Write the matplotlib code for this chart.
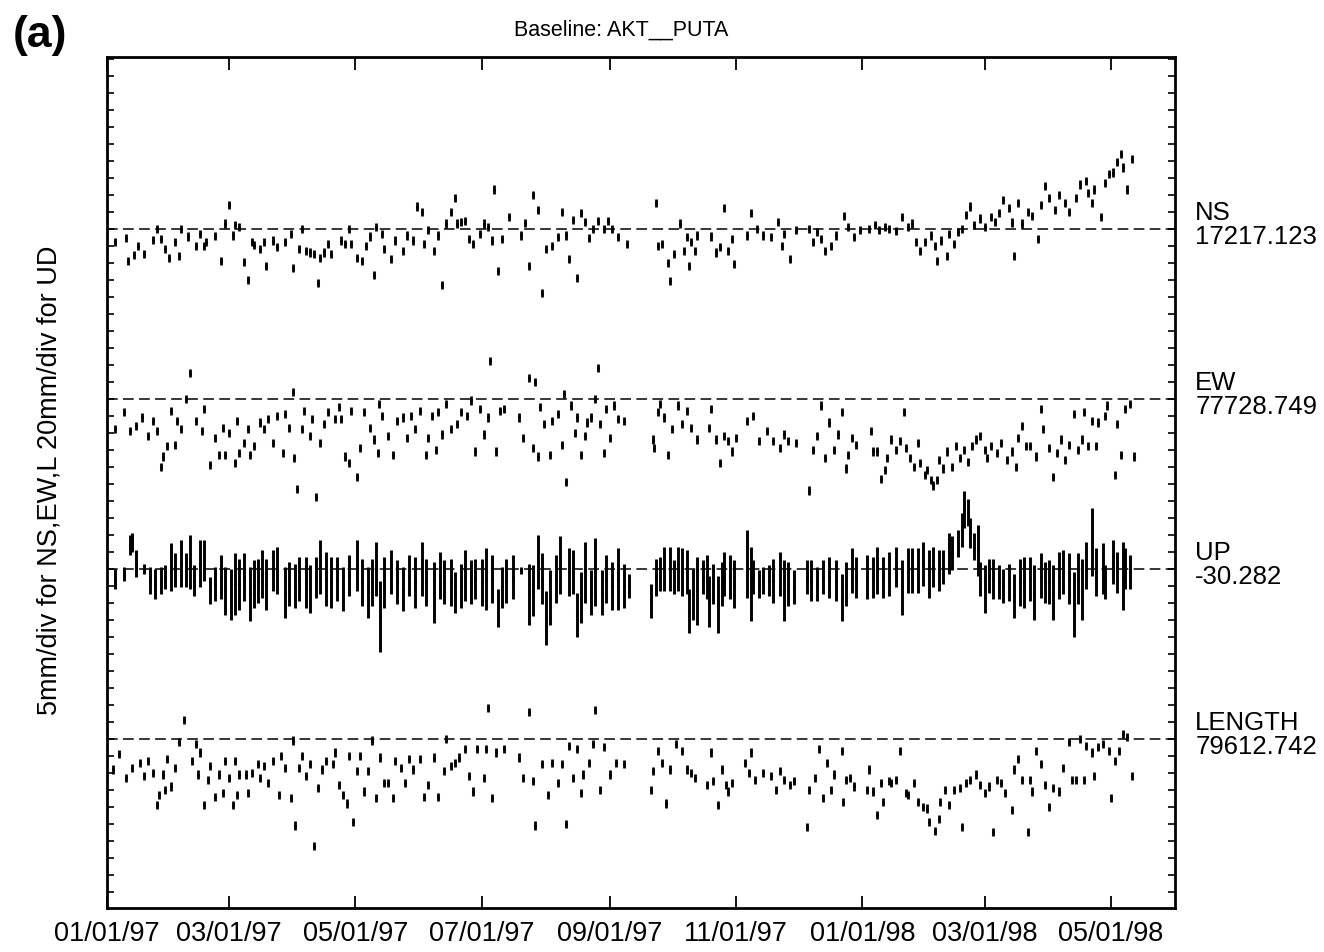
import numpy as np
import matplotlib
matplotlib.use("Agg")
import matplotlib.pyplot as plt
import matplotlib.dates as mdates
import matplotlib.transforms as mtrans

plt.rcParams['font.family'] = ['Liberation Sans', 'DejaVu Sans']

# (day after 01/01/97, offset from reference value in mm)
ns = [(4, -3.8), (9, -2.8), (10, -9.5), (13, -7.7), (15, -5), (18, -7.4), (22, -3.3), (24, 0), (26, -3), (28, -6),
      (30, -8.7), (33, -4), (35, -8), (36, 0), (39, -2.3), (43, -5), (45, -1.5), (47, -5), (48, -4), (52, -2.2),
      (55, -9.5), (57, 1.5), (59, 7), (61, -2), (62, 1), (64, 0.5), (66, -9.7), (68, -15), (70, -4), (71, -4.8),
      (74, -6), (76, -4), (77, -11), (80, -3.5), (82, -5.5), (86, -4), (89, -1.5), (90, -11.5), (93, -6), (94, 0),
      (96, -6.5), (98, -7), (100, -7.5), (102, -16), (103, -8.5), (105, -7), (107, -4.5), (108, -7.5), (113, -3.5),
      (115, -4.5), (117, 0), (118, -4.5), (121, -8.5), (123, -9.5), (125, -5), (127, -2.3), (129, -13.5), (130, 0.5),
      (133, -1.5), (134, -6), (137, -9), (139, -3.5), (143, -6.5), (145, -2), (148, -3.5), (150, 6.5), (152, 5),
      (153, -4.5), (155, -0.5), (158, -6.5), (160, -2), (162, -16.5), (164, 1.5), (166, 5), (168, 9), (169, 1.5),
      (171, 2), (173, 2.2), (175, -3), (177, -4.5), (180, -1.5), (182, 1.5), (184, 0.5), (186, -3.5), (187, 11.5),
      (189, -12.5), (191, -3), (194, 3.5), (200, -2), (202, 1.7), (204, -11), (206, 10), (208, 5.5), (210, -19),
      (212, -6), (215, -5), (218, -2.5), (220, 5), (222, -2), (223, -9), (225, 2.5), (227, -14.5), (229, 4.5),
      (231, 2), (233, -2.8), (235, 0), (237, 2.2), (240, 0), (242, 2.2), (244, 0), (247, -2.5), (251, -4.5),
      (265, 7.5), (266, -5), (268, -4.5), (271, -10), (272, -15.5), (274, -7.5), (277, 1.5), (279, -6.5), (280, -2.5),
      (281, -11), (282, -3.8), (284, -6.5), (285, -2), (292, -2.3), (294, -7), (296, -5.5), (298, 6), (300, -6.5),
      (302, -3), (303, -10.5), (309, -2), (311, 4.5), (314, 0), (317, -2), (321, -2.5), (324, 2), (326, -5),
      (327, -1.5), (330, -9), (333, -0.5), (339, 0), (341, -3.8), (343, -1), (345, -3), (347, -6.5), (350, -5),
      (352, -2), (356, 3.8), (358, 0.5), (361, -2.5), (364, -0.5), (368, 0), (371, 1), (373, -0.5), (376, 0.5),
      (378, 0), (381, -0.8), (384, 3.5), (387, 0.5), (389, 1.5), (391, -4), (393, -6.5), (395, -4), (398, -2),
      (400, -5), (401, -9.5), (403, -3.5), (406, -8), (407, -1.5), (409, -4.5), (411, -1), (413, 0), (415, 4),
      (417, 6.5), (419, 1), (422, 3), (424, 0.5), (427, 3.5), (429, 2), (431, 4.5), (433, 8.5), (436, 6), (437, 1.8),
      (438, -8), (440, 7.5), (442, 1.5), (445, 5), (447, 3.8), (450, -3), (451, 7), (453, 12.5), (455, 9), (458, 5.5),
      (460, 10), (463, 7.5), (465, 5), (468, 9), (470, 13), (473, 14), (474, 10.5), (476, 7.5), (477, 11.5),
      (480, 3.5), (482, 13.5), (484, 16), (486, 16.5), (488, 19.5), (490, 22), (491, 18), (493, 11.5), (495, 20.5)]

ew = [(4, -9), (8, -4), (11, -9.5), (14, -8), (17, -5.5), (20, -11), (22, -6.5), (24, -9.5), (26, -20), (27, -17),
      (29, -14), (31, -3.5), (33, -13.5), (34, -6.5), (36, -9), (38, 0), (40, 7.5), (43, -6.5), (46, -9.5), (47, -3),
      (50, -19.5), (52, -11.5), (54, -16.5), (56, -8.5), (57, -16.5), (59, -10), (62, -19), (63, -6.5), (64, -16),
      (66, -13), (68, -9), (69, -16.5), (71, -14), (74, -7), (76, -9), (78, -6), (80, -13), (82, -5), (85, -16),
      (86, -4.5), (88, -8.5), (90, 2), (90.5, -17.5), (92, -26.5), (94, -9), (95, -3.5), (98, -11), (99, -6),
      (101, -29), (103, -13), (105, -7.5), (107, -4), (110, -6), (112, -2.5), (113, -6), (115, -17), (117, -19),
      (118, -3.5), (121, -23), (122, -14.5), (124, -4), (127, -8.5), (129, -12), (131, -16), (131.5, -1.5), (133, -5),
      (136, -11), (138, -16.5), (140, -6.5), (143, -5.5), (145, -11.5), (147, -5), (149, -9), (151, -3.5),
      (154, -16.5), (155, -11.5), (157, -5), (159, -15), (160, -4), (162, -10.5), (164, -1.5), (166, -9), (169, -7.5),
      (171, -4), (174, -5), (176, -0.5), (178, -15.5), (180, -3), (182, -10.5), (184, -5.5), (185, 11), (188, -15.5),
      (190, -3.5), (192, -3), (199, -5.5), (201, -11.5), (204, 6), (206, -14.5), (207, 5), (208, -17), (209, -2.5),
      (211, -7.5), (214, -16.5), (215, -6.5), (218, -4.5), (220, -13.5), (221, 1.5), (222, -24.5), (224, -2),
      (226, -10), (227, -5.5), (229, -16.5), (231, -11), (232, -7), (234, -5.5), (236, 0), (237, 9), (238, -7.5),
      (240, -16), (241, -3), (243, -11.5), (245, -2), (247, -6), (250, -6.5),
      (264, -12), (264.5, -14.5), (266, -4), (267, -1.5), (269, -5.5), (271, -16.5), (273, -9), (276, -2),
      (278, -7.5), (280, -3.5), (282, -8.5), (285, -12), (291, -8.5), (292, -3), (294, -12), (296, -19), (298, -11),
      (300, -12.5), (302, -15.5), (304, -11.5), (309, -6.5), (312, -5), (315, -12.5), (319, -9.5), (322, -12.5),
      (325, -14.5), (327, -10.5), (329, -12.5), (333, -13), (339, -27), (341, -15), (343, -11), (345, -2),
      (347, -17.5), (349, -7), (351, -15), (353, -10.5), (355, -4), (357, -20.5), (358, -16.5), (360, -11.5),
      (362, -13.5), (369, -9.5), (370, -15.5), (372, -15.5), (374, -23.5), (376, -21), (377, -17.5), (379, -12),
      (381, -15), (383, -12.5), (385, -4), (386, -14.5), (388, -17.5), (390, -20), (392, -13), (393, -19),
      (395, -22.5), (396, -21), (398, -24), (399, -25.5), (401, -24), (402, -18), (404, -20.5), (406, -15.5),
      (408, -20), (410, -14), (412, -17.5), (414, -15), (416, -18.5), (418, -14), (420, -12), (422, -11), (424, -15),
      (425, -17.5), (427, -14), (430, -16), (432, -13), (435, -18), (437, -15.5), (439, -20), (440, -11.5), (442, -8),
      (444, -14), (446, -14), (449, -17), (451, -3), (452, -9), (455, -14.5), (457, -23), (459, -16), (461, -12),
      (463, -18), (465, -13.5), (467, -4.5), (469, -15), (471, -12), (472, -4), (474, -14), (476, -6.5), (478, -14),
      (479, -7), (482, -5), (483, -2), (487, -22.5), (488, -7.5), (490, -16.5), (492, -3), (494, -1.5), (496, -17)]

# (day, offset mm, sigma mm)
up = [(4, -12, 12), (8, -6, 8), (11, 28, 12), (12, 31, 11), (14, 6, 16), (18, 0, 6), (21, -14, 16), (23, -18, 18),
      (26, -14, 16), (28, -10, 14), (31, 2, 28), (33, -2, 20), (36, 6, 28), (38, -2, 20), (40, 8, 32), (42, -14, 18),
      (45, 6, 28), (47, 10, 24), (50, -26, 16), (52, -18, 20), (55, -10, 26), (57, -26, 28), (60, -30, 30),
      (62, -18, 36), (64, -18, 30), (66, -10, 28), (69, -30, 32), (71, -18, 28), (73, -14, 26), (75, -6, 28),
      (77, -18, 30), (80, -2, 24), (82, -2, 28), (86, -28, 30), (88, -18, 26), (91, -20, 26), (93, -12, 26),
      (96, -16, 30), (98, -24, 28), (101, -10, 24), (103, 2, 32), (106, -12, 32), (108, -16, 30), (111, -12, 26),
      (114, -24, 26), (117, -8, 24), (121, 4, 30), (123, -16, 28), (126, -28, 30), (128, -16, 28), (130, 0, 32),
      (132, -56, 42), (134, -16, 30), (137, -4, 26), (140, -16, 26), (143, -24, 26), (146, -8, 24), (149, -16, 30),
      (152, 0, 32), (154, -16, 28), (158, -28, 36), (161, -8, 28), (163, -16, 26), (166, -16, 28), (168, -28, 24),
      (171, -20, 26), (173, -8, 30), (176, -16, 26), (178, -12, 24), (181, -16, 28), (183, -12, 36), (186, -12, 28),
      (189, -46, 22), (191, -22, 24), (193, -14, 26), (196, -10, 26), (200, -2, 4), (204, -30, 36), (206, -26, 30),
      (208, 8, 32), (210, -12, 30), (212, -58, 32), (214, -34, 32), (217, -12, 28), (219, 4, 34), (223, -4, 28),
      (225, -4, 26), (227, -54, 26), (229, -34, 30), (231, -4, 36), (234, -28, 26), (236, -4, 40), (239, -28, 26),
      (241, -12, 28), (244, -20, 28), (247, -12, 36), (250, -20, 26), (252, -20, 14),
      (263, -38, 20), (265, -10, 22), (267, -6, 20), (269, 0, 26), (272, 0, 26), (274, -10, 20), (276, 0, 26),
      (278, -4, 28), (280, -4, 26), (281, -50, 26), (283, -30, 30), (285, -26, 40), (288, -10, 20), (290, -10, 26),
      (291, -38, 30), (293, -18, 24), (295, -42, 34), (297, -18, 26), (298, -6, 26), (301, -10, 26), (303, -18, 28),
      (309, 6, 40), (311, -18, 44), (312, -10, 20), (315, -18, 16), (317, -14, 16), (320, -14, 18), (322, -14, 26),
      (325, -6, 26), (327, -26, 36), (329, -18, 26), (332, -22, 20), (338, -10, 20), (340, -14, 24), (343, -18, 20),
      (346, -10, 20), (349, -10, 24), (352, -14, 24), (355, -34, 28), (357, -18, 26), (360, -2, 26), (362, -10, 24),
      (367, -10, 26), (370, -10, 24), (372, -2, 28), (375, -10, 24), (378, -6, 26), (381, 2, 24), (384, -22, 32),
      (387, -2, 26), (389, -2, 26), (392, -2, 26), (394, 6, 26), (397, -6, 28), (399, 2, 24), (402, -2, 24),
      (404, 2, 20), (407, 18, 24), (408, 18, 20), (411, 30, 16), (413, 46, 20), (414, 70, 22), (416, 66, 16),
      (417, 42, 18), (419, 26, 16), (421, 22, 30), (422, -12, 20), (424, -24, 28), (426, -8, 20), (428, -12, 24),
      (431, -16, 20), (433, -20, 20), (436, -16, 22), (438, -32, 26), (441, -16, 28), (443, -16, 30), (446, -12, 26),
      (448, -28, 32), (451, -8, 26), (453, -16, 24), (455, -16, 26), (457, -28, 32), (460, -8, 28), (462, -4, 26),
      (465, -12, 30), (467, -42, 38), (469, -12, 30), (471, -24, 36), (473, 4, 28), (476, 32, 40), (478, -4, 28),
      (481, 0, 30), (482, -16, 20), (486, 8, 26), (488, -4, 24), (491, -8, 40), (492, 0, 24), (494, -4, 20)]

length = [(3, -9), (6, -4.5), (9, -11.5), (12, -8.5), (16, -7), (18, -11), (20, -6.5), (22, -10), (24, -19.5),
          (25, -16.5), (27, -10.5), (28, -15), (29, -6), (31, -14), (33, -8.5), (35, -1), (37, 5.5), (41, -6.5),
          (43, -1.5), (44, -10.5), (45, -4), (47, -19.5), (49, -12), (50, -8), (52, -17), (54, -10.5), (56, -16),
          (57, -6.5), (59, -11.5), (61, -19.5), (62, -6.5), (63, -16.5), (64, -10.5), (67, -10.5), (68, -16), (70, -10),
          (73, -7.5), (74, -11.5), (76, -8), (78, -13), (80, -6.5), (83, -16.5), (84, -5), (86, -8.5), (89, -17.5),
          (90, -0.5), (91, -25.5), (93, -8.5), (94, -5), (96, -11), (98, -7.5), (100, -31.5), (102, -14.5), (104, -9),
          (106, -6.5), (109, -7.5), (110, -4), (112, -13.5), (114, -16.5), (116, -19), (117, -5), (119, -24.5),
          (121, -9.5), (122, -5), (124, -15.5), (126, -9.5), (128, -0.5), (130, -17.5), (132, -5.5), (134, -13),
          (136, -13), (138, -17.5), (139, -6.5), (142, -8.5), (144, -13), (146, -6), (148, -9), (151, -6), (153, -17),
          (155, -13.5), (158, -5.5), (160, -17), (163, -9.5), (164, 0), (166, -8), (168, -7), (170, -5.5), (173, -3),
          (175, -11), (177, -15.5), (179, -3), (182, -11.5), (183, -3), (184, 9), (186, -17.5), (188, -4), (192, -3),
          (199, -5.5), (201, -11.5), (204, 8), (206, -12.5), (207, -25.5), (210, -7.5), (213, -16.5), (215, -7),
          (218, -13), (220, -7.5), (222, -25), (223, -2), (225, -11.5), (227, -3), (229, -16), (230, -10.5), (233, -7),
          (235, -1.5), (236, 8.5), (238, -15), (240, -2.5), (243, -10.5), (246, -7), (250, -7.5),
          (263, -15), (264, -9.5), (266, -3.5), (268, -7), (270, -19), (272, -9), (275, -1.5), (278, -3.5), (280, -9),
          (282, -10), (284, -11.5), (290, -13.5), (292, -4), (293, -12.5), (295, -19.5), (297, -9), (299, -13.5),
          (300, -15.5), (302, -13), (308, -7), (310, -10), (311, -4), (313, -12), (317, -10), (321, -11), (323, -15),
          (325, -9.5), (327, -12), (330, -13.5), (332, -12.5), (338, -26), (339, -15), (342, -11.5), (344, -3),
          (346, -17.5), (348, -7), (350, -15), (351, -10.5), (355, -3.5), (355.5, -18.5), (357, -12), (359, -11.5),
          (361, -14), (367, -15), (368, -9), (370, -15.5), (372, -22.5), (374, -13), (375, -18.5), (378, -12.5),
          (379, -13), (381, -12), (383, -3.5), (386, -16), (387, -16.5), (390, -13), (392, -18.5), (394, -20),
          (396, -20.5), (397, -24.5), (400, -27), (402, -23.5), (402.5, -18.5), (405, -15), (407, -19.5), (409, -15),
          (412, -14.5), (413, -26), (415, -13), (417, -12), (420, -10.5), (422, -13.5), (424, -16), (426, -14),
          (428, -27.5), (430, -12), (432, -13), (434, -16), (437, -21), (438, -9), (440, -6), (442, -12), (445, -27.5),
          (446, -12), (447, -15.5), (449, -3.5), (451, -7.5), (453, -13.5), (455, -20), (457, -14.5), (460, -15.5),
          (462, -8.5), (465, -1), (466, -12), (468, -12), (470, 0), (472, -12), (473, -2), (476, -4), (477, -11),
          (479, -2.5), (481, -1.5), (484, -3.5), (485, -17.5), (487, -6.5), (489, -3.5), (491, 1.5), (493, 0.5),
          (495, -11)]

components = ["NS", "EW", "UP", "LENGTH"]
ref_values = ["17217.123", "77728.749", "-30.282", "79612.742"]
mm_per_div = [5, 5, 20, 5]
hz_sigma_mm = 1.2  # typical horizontal error bar half-length


start = np.datetime64("1997-01-01T00")


def to_dates(days):
    return start + np.round(np.asarray(days, dtype=float) * 24).astype("timedelta64[h]")


fig = plt.figure(figsize=(13.24, 9.52), dpi=100)
ax = fig.add_axes([0.0808, 0.0462, 0.8067, 0.894])

offsets = [30, 20, 10, 0]
series = [ns, ew, up, length]
for name, ref, scale, off, data in zip(components, ref_values, mm_per_div, offsets, series):
    arr = np.array(data, dtype=float)
    t = to_dates(arr[:, 0])
    y = off + arr[:, 1] / scale
    if arr.shape[1] > 2:
        err = arr[:, 2] / scale
        lw = 2.1
    else:
        err = np.full(len(arr), hz_sigma_mm / scale)
        lw = 2.0
    ax.errorbar(t, y, yerr=err, fmt='none', ecolor='k', elinewidth=lw, capsize=0)
    ax.plot(t, y, 'k.', ms=2.5)
    ax.axhline(off, color='k', lw=1.1, dashes=(7, 3.5))
    trans = mtrans.blended_transform_factory(ax.transAxes, ax.transData)
    ax.text(1.019, off + 0.2, f"{name}\n{ref}", transform=trans, ha='left', va='center',
            fontsize=18.5, linespacing=1.0)

ax.set_xlim(to_dates([0])[0], to_dates([516])[0])
ax.set_ylim(-9.95, 40.1)
ax.xaxis.set_major_locator(mdates.MonthLocator(bymonth=[1, 3, 5, 7, 9, 11]))
ax.xaxis.set_major_formatter(mdates.DateFormatter('%m/%d/%y'))
ax.set_yticks(np.arange(-9, 41, 1))
ax.set_yticklabels([])
ax.tick_params(axis='x', direction='in', length=9, width=1.3, top=True, labelsize=19.5, pad=9)
ax.tick_params(axis='y', direction='in', length=5, width=1.2, right=True)
for s in ax.spines.values():
    s.set_linewidth(2)

fig.text(0.469, 1 - 30 / 952, "Baseline: AKT__PUTA", fontsize=15.5, ha='center', va='center')
fig.text(40 / 1324, 1 - 35 / 952, "(a)", fontsize=32, weight='bold', ha='center', va='center')
fig.text(50 / 1324, 1 - 480 / 952, "5mm/div for NS,EW,L 20mm/div for UD", rotation=90,
         fontsize=19.5, ha='center', va='center')

fig.savefig("out.png", dpi=100)
